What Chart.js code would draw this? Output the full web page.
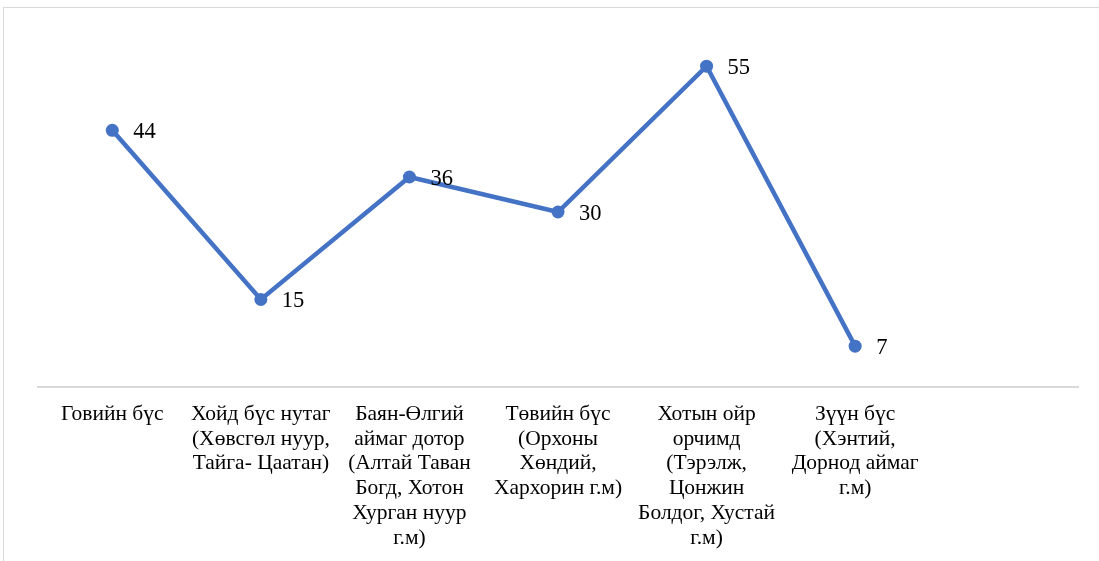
<!DOCTYPE html>
<html>
<head>
<meta charset="utf-8">
<script src="https://cdn.jsdelivr.net/npm/chart.js@4/dist/chart.umd.min.js"></script>
<style>
  html, body { margin: 0; padding: 0; background: #fff; overflow: hidden; }
  #frame { position: absolute; left: 3px; top: 7px; width: 1200px; height: 700px; border: 1px solid #d9d9d9; }
  #wrap { position: absolute; left: 0; top: 0; width: 1099px; height: 561px; }
</style>
</head>
<body>
<div id="frame"></div>
<div id="wrap"><canvas id="chart" width="1099" height="561"></canvas></div>
<script>
// Regions (multi-line tick labels); the last slot is left empty
const regions = [
  ['Говийн бүс'],
  ['Хойд бүс нутаг', '(Хөвсгөл нуур,', 'Тайга- Цаатан)'],
  ['Баян-Өлгий', 'аймаг дотор', '(Алтай Таван', 'Богд, Хотон', 'Хурган нуур', 'г.м)'],
  ['Төвийн бүс', '(Орхоны', 'Хөндий,', 'Хархорин г.м)'],
  ['Хотын ойр', 'орчимд', '(Тэрэлж,', 'Цонжин', 'Болдог, Хустай', 'г.м)'],
  ['Зүүн бүс', '(Хэнтий,', 'Дорнод аймаг', 'г.м)'],
  ''
];
const counts = [44, 15, 36, 30, 55, 7, null];

const yMin = 0;
const yMax = 60;

const serif = "'Liberation Serif', 'Times New Roman', serif";

// Draws each value to the right of its point
const valueLabels = {
  id: 'valueLabels',
  afterDatasetsDraw(chart) {
    const ctx = chart.ctx;
    const meta = chart.getDatasetMeta(0);
    ctx.save();
    ctx.font = '22.5px ' + serif;
    ctx.fillStyle = '#000';
    ctx.textAlign = 'left';
    ctx.textBaseline = 'middle';
    meta.data.forEach((pt, i) => {
      const v = chart.data.datasets[0].data[i];
      if (v === null || v === undefined) return;
      ctx.fillText(String(v), pt.x + 21, pt.y + 2);
    });
    ctx.restore();
  }
};

new Chart(document.getElementById('chart'), {
  type: 'line',
  data: {
    labels: regions,
    datasets: [{
      data: counts,
      borderColor: '#4472C4',
      backgroundColor: '#4472C4',
      borderWidth: 4.5,
      pointRadius: 6.5,
      pointHoverRadius: 6.5,
      pointBorderWidth: 0,
      tension: 0,
      spanGaps: false
    }]
  },
  options: {
    responsive: false,
    animation: false,
    devicePixelRatio: 1,
    layout: { padding: { top: 37, left: 38, right: 21, bottom: 0 } },
    plugins: { legend: { display: false }, tooltip: { enabled: false } },
    scales: {
      x: {
        offset: true,
        grid: { display: false, drawTicks: false },
        border: { display: true, color: '#d9d9d9', width: 2 },
        ticks: {
          autoSkip: false,
          maxRotation: 0,
          minRotation: 0,
          padding: 15,
          color: '#000',
          font: { family: serif, size: 21.5, lineHeight: 1.15 }
        },
        afterFit(scale) { scale.height = 174; }
      },
      y: {
        display: false,
        min: yMin,
        max: yMax
      }
    }
  },
  plugins: [valueLabels]
});
</script>
</body>
</html>
